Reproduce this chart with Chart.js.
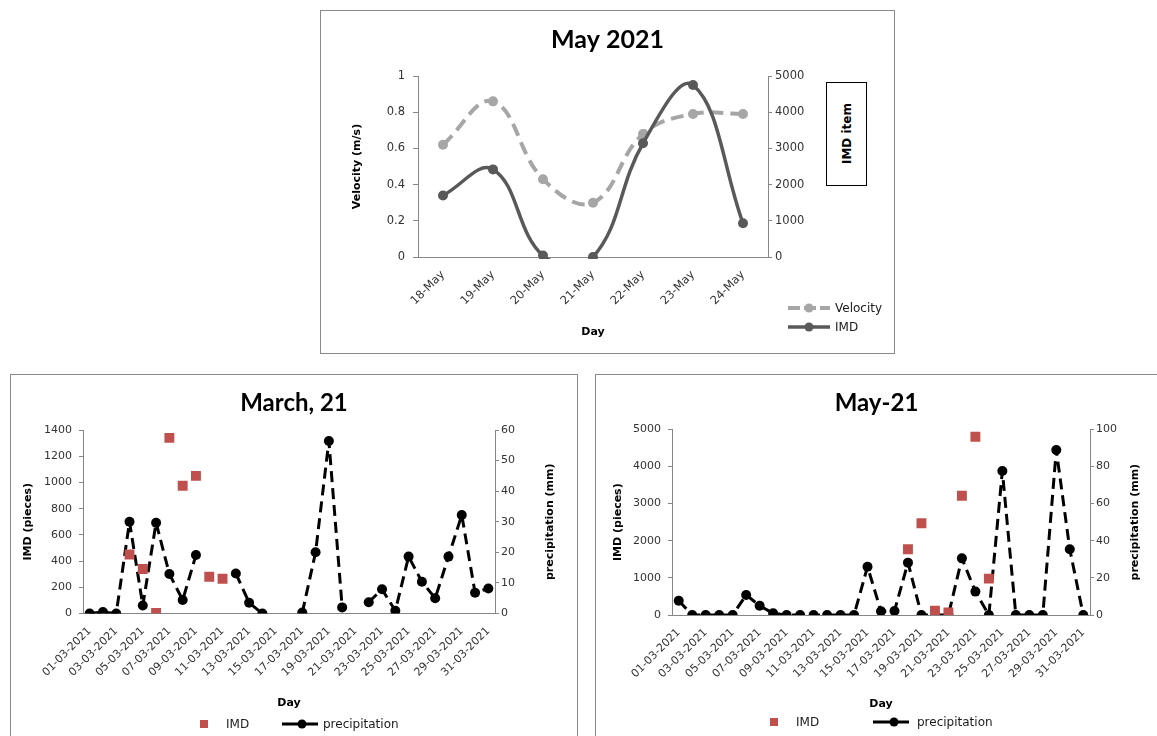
<!DOCTYPE html>
<html>
<head>
<meta charset="utf-8">
<script src="https://cdn.jsdelivr.net/npm/chart.js@4.4.1/dist/chart.umd.min.js"></script>
<style>
  body { margin: 0; background: #fff; font-family: "DejaVu Sans", sans-serif; }
  .box { position: absolute; border: 1px solid #8a8a8a; box-sizing: border-box; background: #fff; overflow: hidden; }
  .cw { position: absolute; left: 0; top: 0; }
  .lg { position: absolute; font-size: 12px; line-height: 14px; color: #1a1a1a; white-space: nowrap; }
  .sq { position: absolute; width: 8px; height: 8px; background: #c0504d; }
  .smp { position: absolute; }
  #imdItem { position: absolute; left: 826px; top: 82px; width: 41px; height: 104px; border: 1px solid #000;
    box-sizing: border-box; display: flex; align-items: center; justify-content: center; background: #fff; }
  #imdItem span { writing-mode: vertical-rl; transform: rotate(180deg); font-weight: bold; font-size: 12px; color: #000; }
</style>
</head>
<body>

<div class="box" style="left:320px;top:10px;width:575px;height:344px">
  <div class="cw" style="width:573px;height:342px"><canvas id="topChart"></canvas></div>
</div>
<div class="box" style="left:10px;top:374px;width:568px;height:380px">
  <div class="cw" style="width:566px;height:345px"><canvas id="marchChart"></canvas></div>
</div>
<div class="box" style="left:595px;top:374px;width:580px;height:380px">
  <div class="cw" style="width:561px;height:345px"><canvas id="mayChart"></canvas></div>
</div>

<div id="imdItem"><span>IMD item</span></div>

<!-- top legend -->
<canvas class="smp" id="lgVel" width="44" height="12" style="left:787px;top:302px"></canvas>
<div class="lg" style="left:835px;top:301px">Velocity</div>
<canvas class="smp" id="lgImd" width="44" height="12" style="left:787px;top:321px"></canvas>
<div class="lg" style="left:835px;top:320px">IMD</div>

<!-- march legend -->
<div class="sq" style="left:200px;top:720px"></div>
<div class="lg" style="left:226px;top:717px">IMD</div>
<canvas class="smp" id="lgPrec1" width="38" height="12" style="left:281px;top:718px"></canvas>
<div class="lg" style="left:323px;top:717px">precipitation</div>

<!-- may legend -->
<div class="sq" style="left:770px;top:718px"></div>
<div class="lg" style="left:796px;top:715px">IMD</div>
<canvas class="smp" id="lgPrec2" width="38" height="12" style="left:872px;top:716px"></canvas>
<div class="lg" style="left:917px;top:715px">precipitation</div>

<script>
// ---- data ----
const topDays = ["18-May", "19-May", "20-May", "21-May", "22-May", "23-May", "24-May"];
const velocity = [0.62, 0.86, 0.43, 0.30, 0.68, 0.79, 0.79];
const imdTop = [1700, 2420, 40, 0, 3140, 4750, 930];

const days = [
  "01-03-2021", "02-03-2021", "03-03-2021", "04-03-2021", "05-03-2021", "06-03-2021", "07-03-2021",
  "08-03-2021", "09-03-2021", "10-03-2021", "11-03-2021", "12-03-2021", "13-03-2021", "14-03-2021",
  "15-03-2021", "16-03-2021", "17-03-2021", "18-03-2021", "19-03-2021", "20-03-2021", "21-03-2021",
  "22-03-2021", "23-03-2021", "24-03-2021", "25-03-2021", "26-03-2021", "27-03-2021", "28-03-2021",
  "29-03-2021", "30-03-2021", "31-03-2021"
];

const marchImd = [null, null, null, 450, 340, 5, 1340, 975, 1050, 280, 265,
  null, null, null, null, null, null, null, null, null, null,
  null, null, null, null, null, null, null, null, null, null];
const marchPrecip = [0, 0.5, 0, 30, 2.6, 29.7, 12.9, 4.4, 19.1, null, null,
  13.1, 3.5, 0, null, null, 0.3, 20, 56.4, 2, null,
  3.7, 7.9, 0.9, 18.6, 10.4, 5, 18.6, 32.2, 6.8, 8.2];

const mayImd = [null, null, null, null, null, null, null, null, null, null, null,
  null, null, null, null, null, null, 1770, 2470, 115, 70,
  3210, 4800, 980, null, null, null, null, null, null, null];
const mayPrecip = [7.7, 0, 0, 0, 0, 10.8, 5.0, 0.9, 0, 0, 0,
  0, 0, 0, 26, 2, 2.2, 28.2, 0, 0, 0,
  30.5, 12.6, 0, 77.5, 0, 0, 0, 88.9, 35.4, 0];

// ---- common style ----
Chart.defaults.font.family = "DejaVu Sans";
Chart.defaults.color = "#333";
const AXIS = "#868686";
const RED = "#c0504d";

// right-hand axis titles read bottom-to-top like in Excel
const rightTitlePlugin = {
  id: "rightTitle",
  afterDraw(chart) {
    const s = chart.scales.y1;
    const t = s && s.options.title;
    if (!t || !t.display || !t.realText) return;
    const g = chart.ctx;
    const lh = 11 * 1.2;
    g.save();
    g.translate(s.right - (lh / 2 + t.padding.top), (s.top + s.bottom) / 2);
    g.rotate(-Math.PI / 2);
    g.font = "bold 11px 'DejaVu Sans'";
    g.fillStyle = "#000";
    g.textAlign = "center";
    g.textBaseline = "middle";
    g.fillText(t.realText, 0, 0);
    g.restore();
  }
};

function titleOpts(text, size, top, bottom) {
  return {
    display: true, text, color: "#000",
    font: { family: "Lato", size, weight: "bold" },
    padding: { top, bottom }
  };
}

function axisTitle(text, padTop, padBottom) {
  return {
    display: true, text, color: "#000",
    font: { size: 11, weight: "bold" },
    padding: { top: padTop, bottom: padBottom || 0 }
  };
}

function yAxis(pos, min, max, step, width, size, tickLen, pad, title) {
  return {
    position: pos, min, max,
    ticks: { stepSize: step, padding: pad, font: { size }, color: "#333", callback: v => String(v) },
    grid: { drawOnChartArea: false, drawTicks: true, tickLength: tickLen, color: AXIS },
    border: { display: true, color: AXIS },
    title: title || { display: false },
    afterFit: s => { s.width = width; }
  };
}

function xAxis(height, padBottom, size, everyOther) {
  return {
    offset: true,
    grid: { display: false },
    border: { display: true, color: AXIS },
    ticks: {
      autoSkip: false, minRotation: 45, maxRotation: 45, font: { size }, color: "#333",
      callback: function (v, i) {
        if (everyOther && i % 2 !== 0) return "";
        return this.getLabelForValue(v);
      }
    },
    title: axisTitle("Day", 0, padBottom),
    afterFit: s => { s.height = height; }
  };
}

// ---- May 2021 (top) ----
new Chart(document.getElementById("topChart"), {
  type: "line",
  data: {
    labels: topDays,
    datasets: [
      {
        label: "Velocity", data: velocity, yAxisID: "y", order: 1,
        borderColor: "#a6a6a6", backgroundColor: "#a6a6a6", borderWidth: 4,
        borderDash: [13, 7], tension: 0.4, capBezierPoints: false,
        pointRadius: 5, pointBorderWidth: 0, clip: { left: 20, right: 20, top: 20, bottom: 2 }
      },
      {
        label: "IMD", data: imdTop, yAxisID: "y1", order: 0,
        borderColor: "#595959", backgroundColor: "#595959", borderWidth: 3.5,
        tension: 0.4, capBezierPoints: false,
        pointRadius: 5, pointBorderWidth: 0, clip: { left: 20, right: 20, top: 20, bottom: 2 }
      }
    ]
  },
  options: {
    responsive: true, maintainAspectRatio: false, animation: false,
    plugins: { legend: { display: false }, tooltip: { enabled: false },
      title: titleOpts("May 2021", 25, 14, 21) },
    scales: {
      x: xAxis(96, 14, 11.5, false),
      y: yAxis("left", 0, 1, 0.2, 97, 11.5, 5, 8, axisTitle("Velocity (m/s)", 30)),
      y1: yAxis("right", 0, 5000, 1000, 126, 11.5, 4, 3)
    }
  }
});

// ---- March, 21 and May-21 (bottom) ----
function bottomChart(id, title, imd, precip, cfg) {
  const rt = axisTitle("precipitation (mm)", cfg.rightTitlePad);
  rt.color = "rgba(0,0,0,0)";
  rt.realText = "precipitation (mm)";
  new Chart(document.getElementById(id), {
    type: "line",
    data: {
      labels: days,
      datasets: [
        {
          label: "IMD", data: imd, yAxisID: "y", order: 0, showLine: false,
          pointStyle: "rect", pointRadius: 7, pointBorderWidth: 0,
          backgroundColor: RED, borderColor: RED
        },
        {
          label: "precipitation", data: precip, yAxisID: "y1", order: 1,
          borderColor: "#000", backgroundColor: "#000", borderWidth: 3,
          borderDash: [11, 6], borderJoinStyle: "round", tension: 0, spanGaps: false,
          pointRadius: 5, pointBorderWidth: 0
        }
      ]
    },
    options: {
      responsive: true, maintainAspectRatio: false, animation: false,
      plugins: { legend: { display: false }, tooltip: { enabled: false },
        title: titleOpts(title, 24, 13.9, cfg.titleBottom) },
      scales: {
        x: xAxis(cfg.xHeight, cfg.dayPad, 11, true),
        y: yAxis("left", 0, cfg.leftMax, cfg.leftStep, cfg.leftW, 11, 4, 7,
          axisTitle("IMD (pieces)", cfg.leftTitlePad)),
        y1: yAxis("right", 0, cfg.rightMax, cfg.rightStep, cfg.rightW, 11, 4, 2, rt)
      }
    },
    plugins: [rightTitlePlugin]
  });
}

bottomChart("marchChart", "March, 21", marchImd, marchPrecip, {
  titleBottom: 12.3, xHeight: 106.5, dayPad: 10.7,
  leftMax: 1400, leftStep: 200, leftW: 72, leftTitlePad: 11,
  rightMax: 60, rightStep: 10, rightW: 82, rightTitlePad: 20
});

bottomChart("mayChart", "May-21", mayImd, mayPrecip, {
  titleBottom: 11.6, xHeight: 105, dayPad: 9,
  leftMax: 5000, leftStep: 1000, leftW: 76, leftTitlePad: 16,
  rightMax: 100, rightStep: 20, rightW: 67, rightTitlePad: 15
});

// ---- legend samples ----
function sample(id, color, width, dash, cx) {
  const c = document.getElementById(id);
  const g = c.getContext("2d");
  g.strokeStyle = color;
  g.lineWidth = width;
  g.setLineDash(dash);
  g.beginPath();
  g.moveTo(1, 6);
  g.lineTo(c.width - 1, 6);
  g.stroke();
  g.fillStyle = color;
  g.beginPath();
  g.arc(cx, 6, 4.5, 0, Math.PI * 2);
  g.fill();
}
sample("lgVel", "#a6a6a6", 4, [12, 4], 22);
sample("lgImd", "#595959", 3.5, [], 22);
sample("lgPrec1", "#000", 3, [], 21);
sample("lgPrec2", "#000", 3, [], 22);
</script>
</body>
</html>
